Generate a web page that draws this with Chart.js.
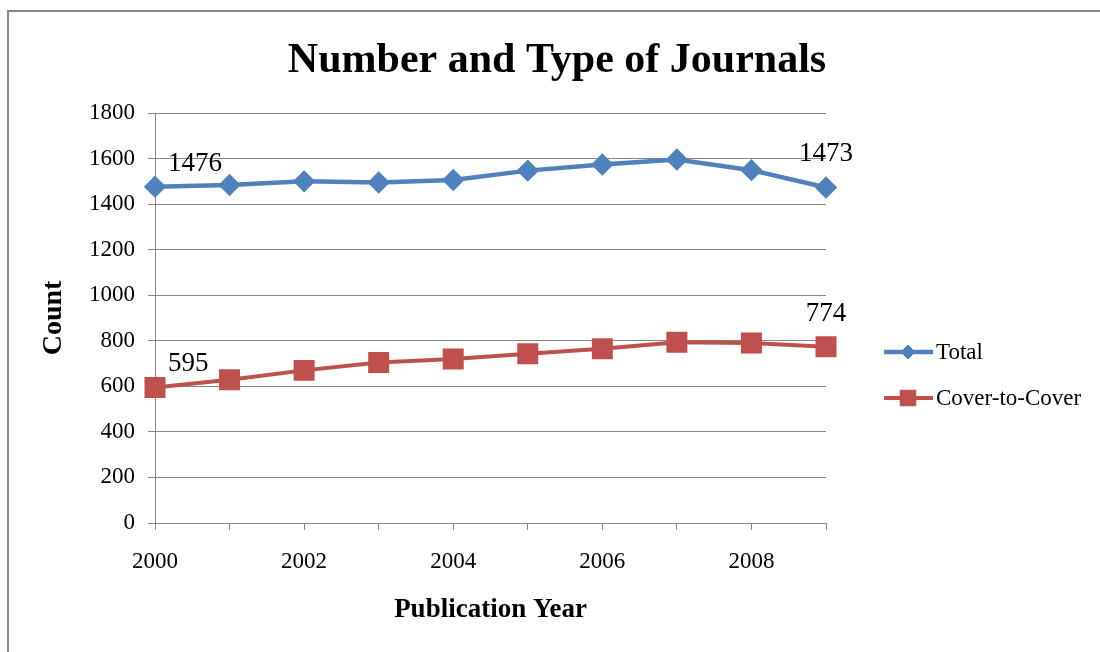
<!DOCTYPE html>
<html>
<head>
<meta charset="utf-8">
<script src="https://cdn.jsdelivr.net/npm/chart.js@4.4.0/dist/chart.umd.min.js"></script>
<style>
  html, body { margin: 0; padding: 0; background: #ffffff; }
  #wrap { width: 1100px; height: 652px; position: relative; }
</style>
</head>
<body>
<div id="wrap"><canvas id="journals" width="1100" height="652"></canvas></div>
<script>
// Journal counts per publication year
const years = ['2000', '2001', '2002', '2003', '2004', '2005', '2006', '2007', '2008', '2009'];
const totalJournals = [1476, 1484, 1500, 1495, 1506, 1547, 1574, 1596, 1549, 1473];
const coverToCover = [595, 629, 670, 705, 720, 743, 765, 794, 790, 774];
const seriesNames = ['Total', 'Cover-to-Cover'];
const yAxisMin = 0;
const yAxisMax = 1800;
const yAxisStep = 200;
const chartTitle = 'Number and Type of Journals';
const xAxisTitle = 'Publication Year';
const yAxisTitle = 'Count';

const SERIF = '"Liberation Serif", "Times New Roman", serif';
const GRID = '#868686';

// Frame, heading, legend and end-point value labels
const decorations = {
  id: 'decorations',
  beforeDraw(chart) {
    const ctx = chart.ctx;
    ctx.save();
    ctx.fillStyle = '#ffffff';
    ctx.fillRect(0, 0, chart.width, chart.height);
    ctx.fillStyle = '#8a8a8a';
    ctx.fillRect(7, 10, chart.width - 7, 2);
    ctx.fillRect(7, 10, 2, chart.height - 10);
    ctx.restore();
  },
  afterDraw(chart) {
    const ctx = chart.ctx;
    ctx.save();

    // heading
    ctx.fillStyle = '#000000';
    ctx.font = 'bold 42px ' + SERIF;
    ctx.textAlign = 'center';
    ctx.textBaseline = 'alphabetic';
    ctx.fillText(chartTitle, 557, 72);

    // legend: line sample with marker, then the series name
    const legendRows = [352, 398];
    chart.data.datasets.forEach((ds, i) => {
      const y = legendRows[i];
      ctx.strokeStyle = ds.borderColor;
      ctx.lineWidth = ds.borderWidth;
      ctx.beginPath();
      ctx.moveTo(884, y);
      ctx.lineTo(933, y);
      ctx.stroke();
      ctx.fillStyle = ds.pointBackgroundColor;
      ctx.strokeStyle = ds.pointBorderColor;
      ctx.lineWidth = 1;
      Chart.helpers.drawPoint(ctx, {
        pointStyle: ds.pointStyle,
        radius: ds.legendRadius,
        rotation: 0,
        borderWidth: 1
      }, 908, y);
      ctx.fillStyle = '#000000';
      ctx.font = '23px ' + SERIF;
      ctx.textAlign = 'left';
      ctx.textBaseline = 'middle';
      ctx.fillText(ds.label, 936, y + 1);
    });

    // values at the first and last year of each series
    ctx.font = '27px ' + SERIF;
    ctx.fillStyle = '#000000';
    ctx.textBaseline = 'alphabetic';
    chart.data.datasets.forEach((ds, i) => {
      const meta = chart.getDatasetMeta(i);
      const first = meta.data[0];
      const last = meta.data[meta.data.length - 1];
      ctx.textAlign = 'left';
      ctx.fillText(String(ds.data[0]), first.x + 13, first.y - 16);
      ctx.textAlign = 'center';
      ctx.fillText(String(ds.data[ds.data.length - 1]), last.x, last.y - 26);
    });

    ctx.restore();
  }
};

new Chart(document.getElementById('journals'), {
  type: 'line',
  data: {
    labels: years,
    datasets: [
      {
        label: seriesNames[0],
        data: totalJournals,
        borderColor: '#4F81BD',
        backgroundColor: '#4F81BD',
        pointBackgroundColor: '#4F81BD',
        pointBorderColor: '#4F81BD',
        borderWidth: 4.5,
        pointStyle: 'rectRot',
        pointRadius: 8,
        legendRadius: 7,
        tension: 0,
        fill: false
      },
      {
        label: seriesNames[1],
        data: coverToCover,
        borderColor: '#C0504D',
        backgroundColor: '#C0504D',
        pointBackgroundColor: '#C0504D',
        pointBorderColor: '#C0504D',
        borderWidth: 4,
        pointStyle: 'rect',
        pointRadius: 12,
        legendRadius: 11,
        tension: 0,
        fill: false
      }
    ]
  },
  options: {
    responsive: false,
    animation: false,
    devicePixelRatio: 1,
    layout: { padding: { top: 113, right: 274, bottom: 0, left: 0 } },
    plugins: {
      legend: { display: false },
      title: { display: false },
      tooltip: { enabled: false }
    },
    scales: {
      x: {
        type: 'category',
        offset: false,
        grid: { drawOnChartArea: false, drawTicks: true, tickLength: 7, color: GRID },
        border: { color: GRID, width: 1 },
        ticks: {
          autoSkip: false,
          maxRotation: 0,
          padding: 18,
          color: '#000000',
          font: { family: SERIF, size: 23 },
          callback(value, index) {
            return index % 2 === 0 ? this.getLabelForValue(value) : '';
          }
        },
        title: {
          display: true,
          text: xAxisTitle,
          color: '#000000',
          font: { family: SERIF, size: 27, weight: 'bold' },
          padding: { top: 0, bottom: 26 }
        },
        afterFit(scale) { scale.height = 129; }
      },
      y: {
        min: yAxisMin,
        max: yAxisMax,
        grid: { color: GRID, drawTicks: true, tickLength: 7 },
        border: { color: GRID, width: 1 },
        ticks: {
          stepSize: yAxisStep,
          padding: 13,
          color: '#000000',
          font: { family: SERIF, size: 23 },
          callback(value) { return String(value); }
        },
        title: {
          display: true,
          text: yAxisTitle,
          color: '#000000',
          font: { family: SERIF, size: 28, weight: 'bold' },
          padding: { top: 37, bottom: 0 }
        },
        afterFit(scale) { scale.width = 155; }
      }
    }
  },
  plugins: [decorations]
});
</script>
</body>
</html>
